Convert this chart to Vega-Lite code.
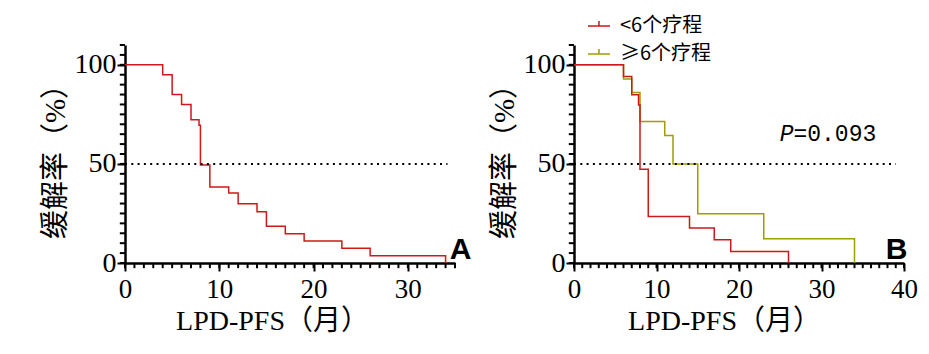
{
  "$schema": "https://vega.github.io/schema/vega-lite/v6.json",
  "background": "white",
  "padding": {"left": 41, "top": 14, "right": 5, "bottom": 5},
  "config": {
    "view": {"stroke": null},
    "axis": {
      "grid": false, "ticks": true, "domain": true, "domainColor": "black", "domainWidth": 2.5, "tickColor": "black", "tickWidth": 2,
      "labelColor": "black", "titleColor": "black", "labelFont": "Liberation Serif",
      "titleFont": "Liberation Serif, Noto Sans CJK SC", "titleFontWeight": "normal",
      "labelOverlap": false, "labelBound": false, "labelFlush": false
    },
    "axisX": {"labelFontSize": 27, "titleFontSize": 28, "labelPadding": 5, "titlePadding": 5},
    "axisY": {"labelFontSize": 28, "titleFontSize": 29, "labelPadding": 1, "titlePadding": 4},
    "concat": {"spacing": 18}
  },
  "datasets": {
    "left": [
      {"t": 0, "s": 100}, {"t": 4, "s": 95}, {"t": 5, "s": 85}, {"t": 6, "s": 80}, {"t": 7, "s": 72.3},
      {"t": 7.85, "s": 69.5}, {"t": 8.0, "s": 49.4}, {"t": 9, "s": 38.3}, {"t": 11, "s": 35.3}, {"t": 12, "s": 29.9},
      {"t": 14, "s": 25.9}, {"t": 15, "s": 18.5}, {"t": 17, "s": 14.8}, {"t": 19, "s": 11.1}, {"t": 23, "s": 7.4},
      {"t": 26, "s": 3.7}, {"t": 34, "s": 0}
    ],
    "right": [
      {"group": "<6个疗程", "t": 0, "s": 100}, {"group": "<6个疗程", "t": 6, "s": 94.1}, {"group": "<6个疗程", "t": 7, "s": 84.9},
      {"group": "<6个疗程", "t": 7.82, "s": 79.7}, {"group": "<6个疗程", "t": 8.0, "s": 47.3}, {"group": "<6个疗程", "t": 9, "s": 23.5},
      {"group": "<6个疗程", "t": 14, "s": 17.6}, {"group": "<6个疗程", "t": 17, "s": 11.7}, {"group": "<6个疗程", "t": 19, "s": 5.8},
      {"group": "<6个疗程", "t": 26, "s": 0},
      {"group": "≥6个疗程", "t": 0, "s": 100}, {"group": "≥6个疗程", "t": 6, "s": 92.9}, {"group": "≥6个疗程", "t": 7, "s": 86.0},
      {"group": "≥6个疗程", "t": 8, "s": 71.4}, {"group": "≥6个疗程", "t": 11, "s": 64.3}, {"group": "≥6个疗程", "t": 12, "s": 50},
      {"group": "≥6个疗程", "t": 15, "s": 24.8}, {"group": "≥6个疗程", "t": 23, "s": 12.2}, {"group": "≥6个疗程", "t": 34, "s": 0}
    ],
    "xticks35": [{"v":0},{"v":1},{"v":2},{"v":3},{"v":4},{"v":5},{"v":6},{"v":7},{"v":8},{"v":9},{"v":10},{"v":11},{"v":12},{"v":13},{"v":14},{"v":15},{"v":16},{"v":17},{"v":18},{"v":19},{"v":20},{"v":21},{"v":22},{"v":23},{"v":24},{"v":25},{"v":26},{"v":27},{"v":28},{"v":29},{"v":30},{"v":31},{"v":32},{"v":33},{"v":34},{"v":35}],
    "xticks40": [{"v":0},{"v":1},{"v":2},{"v":3},{"v":4},{"v":5},{"v":6},{"v":7},{"v":8},{"v":9},{"v":10},{"v":11},{"v":12},{"v":13},{"v":14},{"v":15},{"v":16},{"v":17},{"v":18},{"v":19},{"v":20},{"v":21},{"v":22},{"v":23},{"v":24},{"v":25},{"v":26},{"v":27},{"v":28},{"v":29},{"v":30},{"v":31},{"v":32},{"v":33},{"v":34},{"v":35},{"v":36},{"v":37},{"v":38},{"v":39},{"v":40}],
    "yticks": [{"v":0},{"v":5},{"v":10},{"v":15},{"v":20},{"v":25},{"v":30},{"v":35},{"v":40},{"v":45},{"v":50},{"v":55},{"v":60},{"v":65},{"v":70},{"v":75},{"v":80},{"v":85},{"v":90},{"v":95},{"v":100},{"v":105},{"v":110}]
  },
  "resolve": {"legend": {"color": "independent"}},
  "hconcat": [
    {
      "width": 330, "height": 218,
      "layer": [
        {
          "data": {"name": "left"},
          "mark": {"type": "line", "interpolate": "step-after", "color": "#cc1a1a", "strokeWidth": 1.5},
          "encoding": {
            "x": {"field": "t", "type": "quantitative", "scale": {"domain": [0, 35], "nice": false},
              "axis": {"values": [0, 10, 20, 30], "tickSize": 8, "title": "LPD-PFS（月）", "titleX": 147}},
            "y": {"field": "s", "type": "quantitative", "scale": {"domain": [0, 110], "nice": false},
              "axis": {"values": [0, 50, 100], "tickSize": 8, "title": "缓解率（%）"}}
          }
        },
        {
          "data": {"name": "xticks35"},
          "mark": {"type": "rule", "color": "black", "strokeWidth": 2},
          "encoding": {"x": {"field": "v", "type": "quantitative"}, "y": {"datum": 0}, "y2": {"datum": -2.6}}
        },
        {
          "data": {"name": "yticks"},
          "mark": {"type": "rule", "color": "black", "strokeWidth": 2},
          "encoding": {"y": {"field": "v", "type": "quantitative"}, "x": {"datum": 0}, "x2": {"datum": -0.55}}
        },
        {
          "data": {"values": [{}]},
          "mark": {"type": "rule", "strokeDash": [2, 4.3], "strokeWidth": 2, "color": "black"},
          "encoding": {"x": {"datum": 0}, "x2": {"datum": 34.2}, "y": {"datum": 50}}
        },
        {
          "data": {"values": [{}]},
          "mark": {"type": "text", "text": "A", "font": "Liberation Sans", "fontSize": 30, "fontWeight": "bold", "align": "center", "baseline": "alphabetic", "color": "black"},
          "encoding": {"x": {"datum": 35.6}, "y": {"datum": 2}}
        }
      ]
    },
    {
      "width": 330, "height": 218,
      "layer": [
        {
          "data": {"name": "right"},
          "transform": [{"filter": "datum.group === '≥6个疗程'"}],
          "mark": {"type": "line", "interpolate": "step-after", "strokeWidth": 1.5},
          "encoding": {
            "x": {"field": "t", "type": "quantitative", "scale": {"domain": [0, 40], "nice": false},
              "axis": {"values": [0, 10, 20, 30, 40], "tickSize": 8, "title": "LPD-PFS（月）", "titleX": 150}},
            "y": {"field": "s", "type": "quantitative", "scale": {"domain": [0, 110], "nice": false},
              "axis": {"values": [0, 50, 100], "tickSize": 8, "title": "缓解率（%）"}},
            "color": {"field": "group", "type": "nominal",
              "scale": {"domain": ["<6个疗程", "≥6个疗程"], "range": ["#cc1a1a", "#9e9e00"]},
              "legend": {"orient": "none", "legendX": 13, "legendY": -31, "title": null,
                "symbolType": "M-1,0H1M0,0V-0.45", "symbolSize": 484, "symbolStrokeWidth": 1.5,
                "labelFont": "Noto Sans CJK SC", "labelFontSize": 20, "labelColor": "black",
                "labelOffset": 9, "rowPadding": 6, "padding": 0}}
          }
        },
        {
          "data": {"name": "right"},
          "transform": [{"filter": "datum.group === '<6个疗程'"}],
          "mark": {"type": "line", "interpolate": "step-after", "strokeWidth": 1.5},
          "encoding": {
            "x": {"field": "t", "type": "quantitative"},
            "y": {"field": "s", "type": "quantitative"},
            "color": {"field": "group", "type": "nominal"}
          }
        },
        {
          "data": {"name": "xticks40"},
          "mark": {"type": "rule", "color": "black", "strokeWidth": 2},
          "encoding": {"x": {"field": "v", "type": "quantitative"}, "y": {"datum": 0}, "y2": {"datum": -2.6}}
        },
        {
          "data": {"name": "yticks"},
          "mark": {"type": "rule", "color": "black", "strokeWidth": 2},
          "encoding": {"y": {"field": "v", "type": "quantitative"}, "x": {"datum": 0}, "x2": {"datum": -0.63}}
        },
        {
          "data": {"values": [{}]},
          "mark": {"type": "rule", "strokeDash": [2, 4.3], "strokeWidth": 2, "color": "black"},
          "encoding": {"x": {"datum": 0}, "x2": {"datum": 39}, "y": {"datum": 50}}
        },
        {
          "data": {"values": [{}]},
          "mark": {"type": "text", "text": "P", "font": "Liberation Mono", "fontSize": 23, "fontStyle": "italic", "align": "right", "baseline": "middle", "color": "black"},
          "encoding": {"x": {"datum": 26.6}, "y": {"datum": 65}}
        },
        {
          "data": {"values": [{}]},
          "mark": {"type": "text", "text": "=0.093", "font": "Liberation Mono", "fontSize": 23, "align": "left", "baseline": "middle", "color": "black"},
          "encoding": {"x": {"datum": 26.6}, "y": {"datum": 65}}
        },
        {
          "data": {"values": [{}]},
          "mark": {"type": "text", "text": "B", "font": "Liberation Sans", "fontSize": 30, "fontWeight": "bold", "align": "center", "baseline": "alphabetic", "color": "black"},
          "encoding": {"x": {"datum": 39.1}, "y": {"datum": 2}}
        }
      ]
    }
  ]
}
